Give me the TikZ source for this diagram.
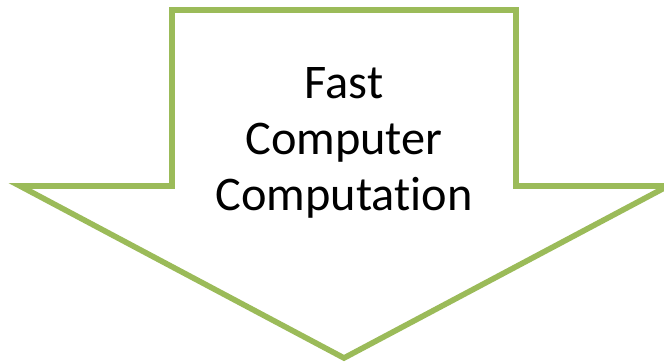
\documentclass[tikz,border=0pt]{standalone}
\usepackage{fontspec}
\setmainfont{Carlito}[Ligatures={TeX,NoCommon}]
\usepackage{xcolor}
\definecolor{leafgreen}{HTML}{9BBB59}

\begin{document}
\begin{tikzpicture}[x=0.02cm, y=-0.02cm]
        \useasboundingbox (0,0) rectangle (664,364);
        \clip (0,0) rectangle (664,364);
        % Arrow outline
        \draw[leafgreen, line width=3.2pt, fill=white, line join=miter]
            (172,10) -- (516,10) -- (516,186) -- (668,186) -- (344,358)
            -- (20,186) -- (172,186) -- cycle;
        % Caption
        \node[align=center, font=\fontsize{27.5}{32}\selectfont] (caption) at (344,143)
            {Fast\\Computer\\Computation};
    \end{tikzpicture}
\end{document}
